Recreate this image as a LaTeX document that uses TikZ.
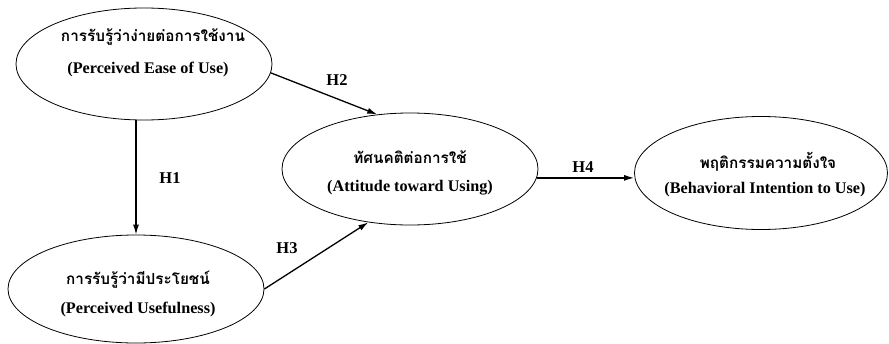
\documentclass[tikz,border=0pt]{standalone}
\usepackage{fontspec}
\setmainfont{Liberation Serif}
\newfontfamily\thaifont[Script=Thai]{Loma}
\usetikzlibrary{shapes.geometric,arrows.meta}
\tikzset{
  ell/.style={draw, ellipse, line width=0.8pt, minimum width=256pt, minimum height=112pt, inner sep=0pt},
  thai/.style={font=\thaifont\bfseries\fontsize{15.3}{17}\selectfont, inner sep=0pt},
  eng/.style={font=\bfseries\fontsize{16.2}{18}\selectfont, inner sep=0pt},
  hlab/.style={font=\bfseries\fontsize{16.5}{18}\selectfont, inner sep=0pt},
  arr/.style={line width=1.3pt, -{Latex[length=10pt,width=6pt]}}
}
\begin{document}
\begin{tikzpicture}[x=1pt,y=-1pt]
\useasboundingbox (0,0) rectangle (889,343);
% ellipses
\node[ell] (peou) at (144,64) {};
\node[ell, minimum height=108pt] (pu) at (136,289) {};
\node[ell] (atu) at (410,169) {};
\node[ell, minimum width=253pt, minimum height=113pt] (bi) at (761,173) {};
% texts
\node[thai] (peouT) at (153,37) {การรับรู้ว่าง่ายต่อการใช้งาน};
\node[eng] (peouE) at (148,70) {(Perceived Ease of Use)};
\node[thai] (puT) at (138,280) {การรับรู้ว่ามีประโยชน์};
\node[eng] (puE) at (138,310) {(Perceived Usefulness)};
\node[thai] (atuT) at (410,157) {ทัศนคติต่อการใช้};
\node[eng] (atuE) at (410,188) {(Attitude toward Using)};
\node[thai] (biT) at (768,162) {พฤติกรรมความตั้งใจ};
\node[eng] (biE) at (765,190) {(Behavioral Intention to Use)};
% connectors
\draw[arr] (pu.north |- peou.south) -- (pu.north);
\draw[arr] (peou.-4) -- (atu.121);
\draw[arr] (pu.east) -- (atu.232);
\draw[arr] (atu.-4) -- (atu.-4 -| bi.west);
% labels
\node[hlab] (h1) at (170,178) {H1};
\node[hlab] (h2) at (337,80) {H2};
\node[hlab] (h3) at (287,248) {H3};
\node[hlab] (h4) at (583,167) {H4};
\end{tikzpicture}
\end{document}
